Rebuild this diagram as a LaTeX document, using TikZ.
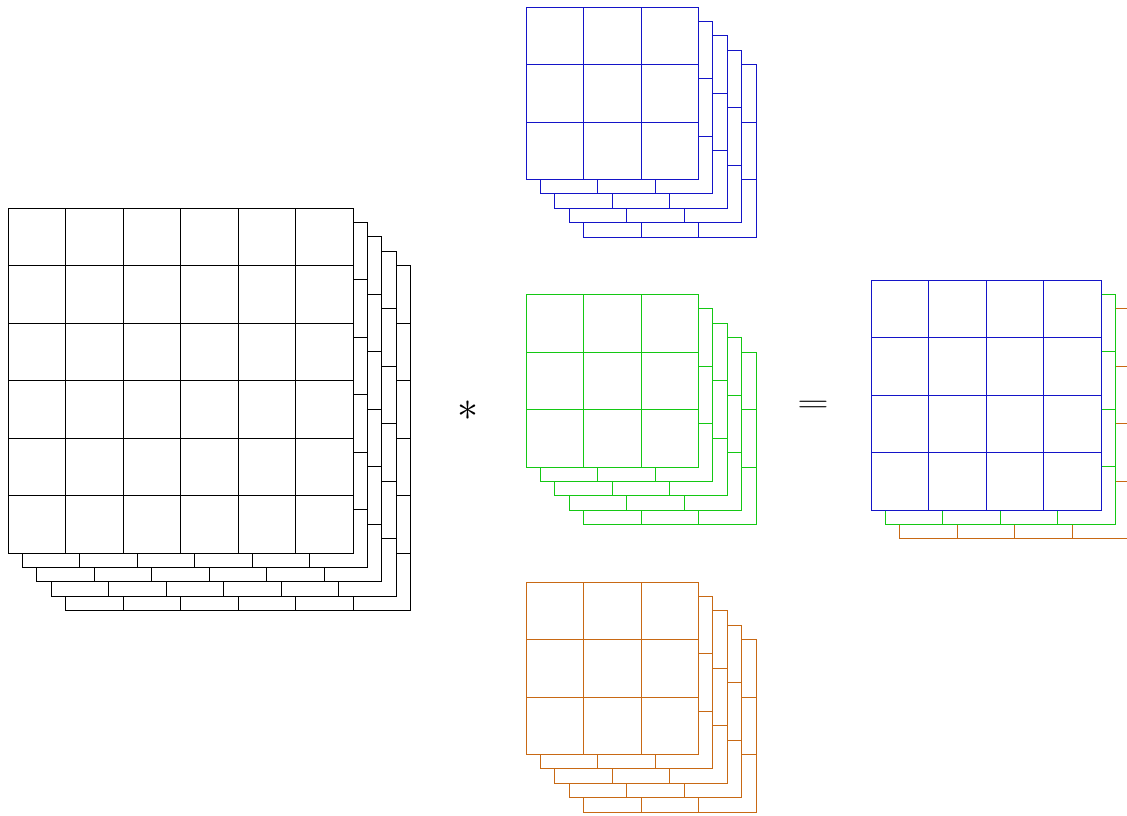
\documentclass[tikz,border=0pt]{standalone}
\definecolor{kblue}{RGB}{20,20,200}
\definecolor{kgreen}{RGB}{20,200,20}
\definecolor{korange}{RGB}{200,105,20}
\tikzset{layer/.style={line width=1.2pt, fill=white},
  gline/.style={line width=1.2pt}}
\newcommand\gridlayer[4]{% x, y, n cells, colour
  \pgfmathsetmacro\xa{floor(#1)+0.5}
  \pgfmathsetmacro\ya{floor(#2)+0.5}
  \pgfmathsetmacro\xb{floor(#1+#3*57.5)+0.5}
  \pgfmathsetmacro\yb{floor(#2+#3*57.5)+0.5}
  \draw[layer, draw=#4] (\xa,\ya) rectangle (\xb,\yb);
  \foreach \i in {1,...,#3}{
    \pgfmathsetmacro\gx{floor(#1+57.5*\i)+0.5}
    \pgfmathsetmacro\gy{floor(#2+57.5*\i)+0.5}
    \draw[gline, draw=#4] (\gx,\ya) -- (\gx,\yb);
    \draw[gline, draw=#4] (\xa,\gy) -- (\xb,\gy);
  }}
\newcommand\gridstack[5]{% x, y, n, layers-1, colour
  \foreach \k in {#4,...,0}{
    \pgfmathsetmacro\ox{#1+14.4*\k}
    \pgfmathsetmacro\oy{#2+14.4*\k}
    \gridlayer{\ox}{\oy}{#3}{#5}
  }}
\begin{document}
\begin{tikzpicture}[x=1pt,y=-1pt]
\useasboundingbox (0,0) rectangle (1127,816);
\clip (0,0) rectangle (1127,816);
% input
\gridstack{8}{208}{6}{4}{black}
% kernels
\gridstack{526}{7}{3}{4}{kblue}
\gridstack{526}{294.5}{3}{4}{kgreen}
\gridstack{526}{582}{3}{4}{korange}
% output
\gridlayer{899.8}{308.8}{4}{korange}
\gridlayer{885.4}{294.4}{4}{kgreen}
\gridlayer{871}{280}{4}{kblue}
% operators
\node[scale=4.2] (star) at (468,411) {$\ast$};
\node[xscale=4.1, yscale=2.8] (eq) at (813,406) {$=$};
\end{tikzpicture}
\end{document}
